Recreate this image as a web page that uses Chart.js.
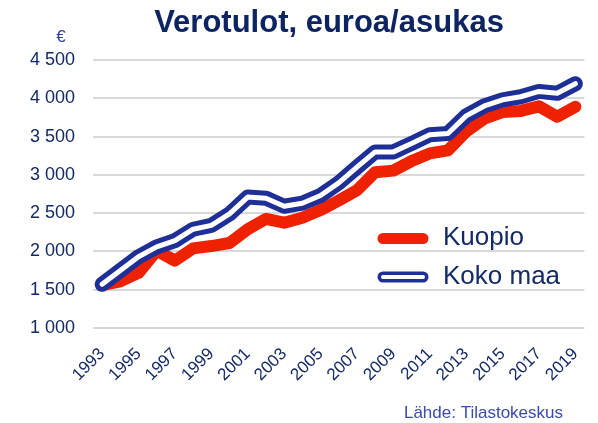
<!DOCTYPE html>
<html>
<head>
<meta charset="utf-8">
<script src="https://cdn.jsdelivr.net/npm/chart.js@4.4.0/dist/chart.umd.min.js"></script>
<style>
  body { margin: 0; background: #fff; }
  #wrap { width: 598px; height: 423px; position: relative; }
</style>
</head>
<body>
<div id="wrap"><canvas id="verotulotChart" width="598" height="423"></canvas></div>
<script>
const years = ['1993', '1994', '1995', '1996', '1997', '1998', '1999', '2000', '2001', '2002', '2003', '2004', '2005', '2006',
    '2007', '2008', '2009', '2010', '2011', '2012', '2013', '2014', '2015', '2016', '2017', '2018', '2019'];
const kuopio = [1560, 1610, 1720, 2010, 1880, 2040, 2070, 2110, 2290, 2425, 2375, 2440, 2540, 2665,
    2800, 3035, 3055, 3180, 3280, 3320, 3565, 3735, 3820, 3835, 3895, 3760, 3890];
const kokoMaa = [1570, 1750, 1930, 2060, 2140, 2290, 2340, 2490, 2710, 2695, 2590, 2630, 2730, 2895,
    3100, 3300, 3300, 3410, 3525, 3540, 3770, 3900, 3980, 4020, 4090, 4065, 4190];
const yTicks = [1000, 1500, 2000, 2500, 3000, 3500, 4000, 4500];

const titleText = 'Verotulot, euroa/asukas';
const unitText = '€';
const sourceText = 'Lähde: Tilastokeskus';
const seriesNames = ['Kuopio', 'Koko maa'];

const RED = '#ee2200';
const BLUE = '#1f2f98';
const NAVY = '#142a66';
const FONT = '"Liberation Sans", Arial, sans-serif';

function formatThousands(v) {
    return String(v).replace(/\B(?=(\d{3})+(?!\d))/g, ' ');
}

// otsikko, yksikkö, lähde ja selite piirretään itse
const extrasPlugin = {
    id: 'extras',
    afterDraw(chart) {
        const ctx = chart.ctx;
        ctx.save();
        ctx.textBaseline = 'alphabetic';

        ctx.fillStyle = '#0d2462';
        ctx.font = 'bold 31px ' + FONT;
        ctx.textAlign = 'center';
        ctx.fillText(titleText, 329, 32);

        ctx.fillStyle = '#2d3da6';
        ctx.font = '17px ' + FONT;
        ctx.fillText(unitText, 61, 42);

        ctx.fillStyle = '#3a4aae';
        ctx.font = '17px ' + FONT;
        ctx.textAlign = 'right';
        ctx.fillText(sourceText, 563, 418);

        // selite
        ctx.lineCap = 'round';
        ctx.beginPath();
        ctx.strokeStyle = RED;
        ctx.lineWidth = 11;
        ctx.moveTo(383, 238.5);
        ctx.lineTo(423, 238.5);
        ctx.stroke();

        ctx.beginPath();
        ctx.strokeStyle = BLUE;
        ctx.lineWidth = 11;
        ctx.moveTo(383, 277);
        ctx.lineTo(423, 277);
        ctx.stroke();
        ctx.beginPath();
        ctx.strokeStyle = '#fff';
        ctx.lineWidth = 4;
        ctx.moveTo(383, 277);
        ctx.lineTo(423, 277);
        ctx.stroke();

        ctx.fillStyle = NAVY;
        ctx.font = '26px ' + FONT;
        ctx.textAlign = 'left';
        ctx.textBaseline = 'middle';
        ctx.fillText(seriesNames[0], 443, 238);
        ctx.fillText(seriesNames[1], 443, 277);
        ctx.restore();
    }
};

const ctx = document.getElementById('verotulotChart').getContext('2d');
const verotulotChart = new Chart(ctx, {
    type: 'line',
    data: {
        labels: years,
        datasets: [
            {
                label: seriesNames[0],
                data: kuopio,
                borderColor: RED,
                borderWidth: 12,
                borderCapStyle: 'round',
                borderJoinStyle: 'round',
                pointRadius: 0,
                tension: 0,
                order: 2
            },
            {
                label: seriesNames[1],
                data: kokoMaa,
                borderColor: BLUE,
                borderWidth: 15,
                borderCapStyle: 'round',
                borderJoinStyle: 'round',
                pointRadius: 0,
                tension: 0,
                order: 1
            },
            {
                label: seriesNames[1] + ' (sisä)',
                data: kokoMaa,
                borderColor: '#ffffff',
                borderWidth: 5,
                borderCapStyle: 'round',
                borderJoinStyle: 'round',
                pointRadius: 0,
                tension: 0,
                order: 0
            }
        ]
    },
    options: {
        responsive: false,
        animation: false,
        events: [],
        layout: { padding: { top: 60, right: 11, left: 0, bottom: 0 } },
        plugins: {
            legend: { display: false },
            title: { display: false },
            tooltip: { enabled: false }
        },
        scales: {
            x: {
                offset: true,
                grid: { display: false },
                border: { display: false },
                ticks: {
                    autoSkip: false,
                    maxRotation: 45,
                    minRotation: 45,
                    padding: 8,
                    color: NAVY,
                    font: { family: FONT, size: 17 },
                    callback: (val, i) => (i % 2 === 0 ? years[i] : '')
                },
                afterFit: (scale) => { scale.height = 95; }
            },
            y: {
                min: yTicks[0],
                max: yTicks[yTicks.length - 1],
                afterBuildTicks: (scale) => { scale.ticks = yTicks.map(v => ({ value: v })); },
                grid: { color: '#d9d9d9', lineWidth: 2, drawTicks: false },
                border: { display: false },
                ticks: {
                    padding: 18,
                    color: NAVY,
                    font: { family: FONT, size: 18 },
                    callback: (v) => formatThousands(v)
                },
                afterFit: (scale) => { scale.width = 93; }
            }
        }
    },
    plugins: [extrasPlugin]
});
</script>
</body>
</html>
